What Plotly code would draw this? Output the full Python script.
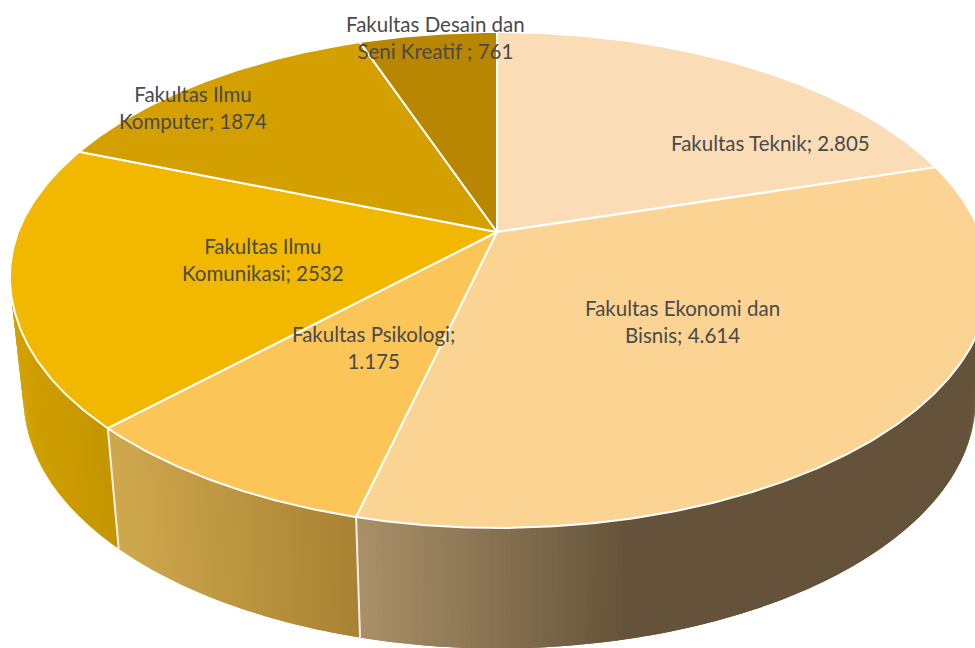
import math
import plotly.graph_objects as go

# ---- data ----
categories = ["Fakultas Teknik", "Fakultas Ekonomi dan Bisnis", "Fakultas Psikologi",
              "Fakultas Ilmu Komunikasi", "Fakultas Ilmu Komputer", "Fakultas Desain dan Seni Kreatif"]
values = [2805, 4614, 1175, 2532, 1874, 761]
label_texts = ["Fakultas Teknik; 2.805", "Fakultas Ekonomi dan<br>Bisnis; 4.614",
               "Fakultas Psikologi;<br>1.175", "Fakultas Ilmu<br>Komunikasi; 2532",
               "Fakultas Ilmu<br>Komputer; 1874", "Fakultas Desain dan<br>Seni Kreatif ; 761"]

# ---- style / layout ----
top_colors = ["#FADDB6", "#FBD493", "#FCC558", "#F2B800", "#D4A000", "#B88600"]
label_pos = [(770, 143), (682, 321), (373, 347), (263, 259), (193, 107), (435, 37)]
# wall gradient per slice: (x0, rgb0, x1, rgb1), horizontal over the picture
wall_grad = {
    1: (356, (170, 144, 104), 625, (100, 83, 58)),
    2: (110, (207, 168, 78), 356, (168, 130, 50)),
    3: (10, (210, 160, 0), 110, (195, 149, 0)),
}
CX, CY, A, B, K = 497.0, 232.0, 480.0, 238.7, 0.1935
DEPTH, SHRINK = 120.5, 0.972


def skew(x, y):
    # small correction of the rim against the ideal projected circle
    if x >= 0:
        return 3.0 * x
    return (1.0 + 2.0 * min(1.0, max(0.0, -y) * 3.0)) * min(1.0, -x * 4.0)


def top(theta):
    x, y = math.sin(theta), math.cos(theta)
    w = 1 + K * y
    return CX + A * x / w + skew(x, y), CY - B * y / w


def bottom(theta):
    X, Y = top(theta)
    return CX + (X - CX) * SHRINK, Y + DEPTH


total = sum(values)
edges = [0.0]
for v in values:
    edges.append(edges[-1] + v / total * 2 * math.pi)

fig = go.Figure()


def lerp_color(grad, x):
    x0, c0, x1, c1 = grad
    t = max(0.0, min(1.0, (x - x0) / (x1 - x0)))
    return "rgb(%d,%d,%d)" % tuple(round(a + (b - a) * t) for a, b in zip(c0, c1))


# walls: thin strips, each overlapping the next, coloured by screen x
STEP = math.radians(0.5)
for i, grad in wall_grad.items():
    n = int((edges[i + 1] - edges[i]) / STEP) + 1
    for j in range(n):
        t0 = edges[i] + j * (edges[i + 1] - edges[i]) / n
        t1 = edges[i] + min(j + 2, n) * (edges[i + 1] - edges[i]) / n
        mid = (t0 + t1) / 2
        pts = [top(t0), top(mid), top(t1), bottom(t1), bottom(mid), bottom(t0)]
        fig.add_trace(go.Scatter(
            x=[p[0] for p in pts] + [pts[0][0]], y=[p[1] for p in pts] + [pts[0][1]],
            mode="lines", fill="toself", line=dict(width=0),
            fillcolor=lerp_color(grad, top(mid)[0]), hoverinfo="skip", showlegend=False))

# separators on the wall
for i in (2, 3):
    p, q = top(edges[i]), bottom(edges[i])
    fig.add_trace(go.Scatter(x=[p[0], q[0]], y=[p[1], q[1]], mode="lines",
                             line=dict(color="#F4EFE6", width=2), hoverinfo="skip", showlegend=False))

# top face
for i, name in enumerate(categories):
    n = max(4, int((edges[i + 1] - edges[i]) / math.radians(0.5)))
    pts = [(CX, CY)] + [top(edges[i] + (edges[i + 1] - edges[i]) * j / n) for j in range(n + 1)] + [(CX, CY)]
    fig.add_trace(go.Scatter(
        x=[p[0] for p in pts], y=[p[1] for p in pts], mode="lines", fill="toself",
        fillcolor=top_colors[i], line=dict(color="white", width=2), line_shape="linear",
        name=name, hoverinfo="name", showlegend=False))

for (lx, ly), txt in zip(label_pos, label_texts):
    fig.add_annotation(x=lx, y=ly, text=txt, showarrow=False, align="center",
                       font=dict(family="Lato", size=20.5, color="#4A4A4A"))

fig.update_layout(
    width=975, height=648, margin=dict(l=0, r=0, t=0, b=0),
    paper_bgcolor="white", plot_bgcolor="white", showlegend=False,
    xaxis=dict(range=[0, 975], visible=False, fixedrange=True),
    yaxis=dict(range=[648, 0], visible=False, fixedrange=True),
)
fig.write_html("out.html", config={"displayModeBar": False},
               post_script="document.body.style.margin='0';document.body.style.overflow='hidden';")
